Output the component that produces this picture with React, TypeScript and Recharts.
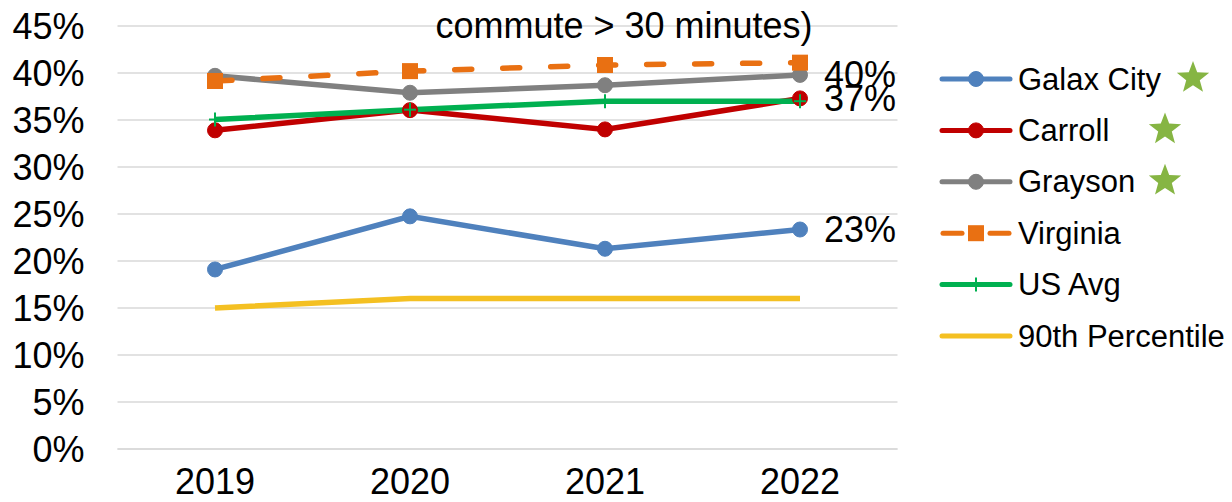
import React from "react";
import {
  CartesianGrid,
  LabelList,
  Line,
  LineChart,
  XAxis,
  YAxis,
} from "recharts";

const years = ["2019", "2020", "2021", "2022"];
const galax = [19.1, 24.75, 21.3, 23.35];
const carroll = [33.9, 36.05, 34.0, 37.3];
const grayson = [39.7, 37.9, 38.7, 39.8];
const virginia = [39.15, 40.2, 40.85, 41.1];
const usAvg = [35.05, 36.1, 37.0, 37.0];
const pct90 = [15.0, 16.0, 16.0, 16.0];
const yTicks = [0, 5, 10, 15, 20, 25, 30, 35, 40, 45];
const title = "commute > 30 minutes)";

const FONT = "'Liberation Sans', Arial, sans-serif";

const series = [
  { key: "galax", name: "Galax City", color: "#4F81BD", marker: "circle", star: true, label: true },
  { key: "carroll", name: "Carroll", color: "#C00000", marker: "circle", star: true, label: true },
  { key: "grayson", name: "Grayson", color: "#808080", marker: "circle", star: true, label: true },
  { key: "virginia", name: "Virginia", color: "#E97012", marker: "square", dashed: true },
  { key: "usAvg", name: "US Avg", color: "#00B050", marker: "plus" },
  { key: "pct90", name: "90th Percentile", color: "#F4C022", marker: "none" },
];

const data = years.map((year, i) => ({
  year,
  galax: galax[i],
  carroll: carroll[i],
  grayson: grayson[i],
  virginia: virginia[i],
  usAvg: usAvg[i],
  pct90: pct90[i],
}));

function Marker({ cx, cy, kind, color }: any) {
  if (cx == null || cy == null) return null;
  if (kind === "circle")
    return <circle cx={cx} cy={cy} r={7.5} fill={color} stroke={color} strokeWidth={1} />;
  if (kind === "square")
    return <rect x={cx - 8} y={cy - 8} width={16} height={16} fill={color} />;
  if (kind === "plus")
    return (
      <g stroke={color} strokeWidth={2}>
        <line x1={cx} x2={cx} y1={cy - 7} y2={cy + 7} />
        <line x1={cx - 6} x2={cx + 6} y1={cy} y2={cy} />
      </g>
    );
  return null;
}

function Star({ cx, cy, r }: { cx: number; cy: number; r: number }) {
  const pts: string[] = [];
  for (let i = 0; i < 10; i++) {
    const a = -Math.PI / 2 + (i * Math.PI) / 5;
    const rr = i % 2 === 0 ? r : r * 0.42;
    pts.push(`${cx + rr * Math.cos(a)},${cy + rr * Math.sin(a)}`);
  }
  return <polygon points={pts.join(" ")} fill="#86B543" />;
}

const starX: Record<string, number> = { galax: 1193, carroll: 1165, grayson: 1165 };

// legend drawn by hand so it doesn't eat plot space
function LegendRows() {
  return (
    <g>
      {series.map((s, i) => {
        const y = 79 + i * 51.4;
        return (
          <g key={s.key}>
            {s.dashed ? (
              <g stroke={s.color} strokeWidth={5} strokeLinecap="round">
                <line x1={943} x2={962} y1={y} y2={y} />
                <line x1={990} x2={1009} y1={y} y2={y} />
              </g>
            ) : (
              <line x1={942} x2={1010} y1={y} y2={y} stroke={s.color} strokeWidth={5} strokeLinecap="round" />
            )}
            <Marker cx={976} cy={y} kind={s.marker} color={s.color} />
            <text x={1018} y={y} dominantBaseline="central" fontSize={31} fontFamily={FONT} fill="#000">
              {s.name}
            </text>
            {s.star ? <Star cx={starX[s.key]} cy={y - 1} r={17} /> : null}
          </g>
        );
      })}
    </g>
  );
}

function EndLabel(props: any) {
  const { x, y, index, value } = props;
  if (index !== years.length - 1) return null;
  return (
    <text x={x + 24} y={y} dominantBaseline="central" fontSize={36} fontFamily={FONT} fill="#000">
      {Math.round(value)}%
    </text>
  );
}

export default function App() {
  return (
    <div style={{ position: "absolute", left: 0, top: 0, width: 1232, height: 502, background: "#fff" }}>
      <LineChart
        width={1232}
        height={502}
        data={data}
        margin={{ top: 26, right: 334.5, left: 0, bottom: 23 }}
      >
        <CartesianGrid vertical={false} stroke="#D9D9D9" strokeWidth={1.5} />
        <XAxis
          dataKey="year"
          height={30}
          padding={{ left: 97.5, right: 97.5 }}
          axisLine={{ stroke: "#D9D9D9", strokeWidth: 1.5 }}
          tickLine={false}
          tickSize={0}
          tickMargin={19}
          interval={0}
          tick={{ fill: "#000", fontSize: 36, fontFamily: FONT }}
        />
        <YAxis
          width={117.5}
          domain={[0, 45]}
          ticks={yTicks}
          interval={0}
          tickFormatter={(v) => `${v}%`}
          axisLine={false}
          tickLine={false}
          tickSize={0}
          tickMargin={33}
          tick={{ fill: "#000", fontSize: 36, fontFamily: FONT }}
        />
        {series.map((s) => (
          <Line
            key={s.key}
            dataKey={s.key}
            name={s.name}
            stroke={s.color}
            strokeWidth={5.5}
            strokeDasharray={s.dashed ? "17 31" : undefined}
            strokeLinecap={s.dashed ? "round" : "butt"}
            dot={s.marker === "none" ? false : (p: any) => <Marker key={`${s.key}-${p.index}`} cx={p.cx} cy={p.cy} kind={s.marker} color={s.color} />}
            activeDot={false}
            isAnimationActive={false}
          >
            {s.label ? <LabelList dataKey={s.key} content={EndLabel} /> : null}
          </Line>
        ))}
      </LineChart>
      <svg width={1232} height={502} style={{ position: "absolute", left: 0, top: 0, pointerEvents: "none" }}>
        <text x={624} y={38} textAnchor="middle" fontSize={36} fontFamily={FONT} fill="#000">
          {title}
        </text>
        <LegendRows />
      </svg>
    </div>
  );
}
